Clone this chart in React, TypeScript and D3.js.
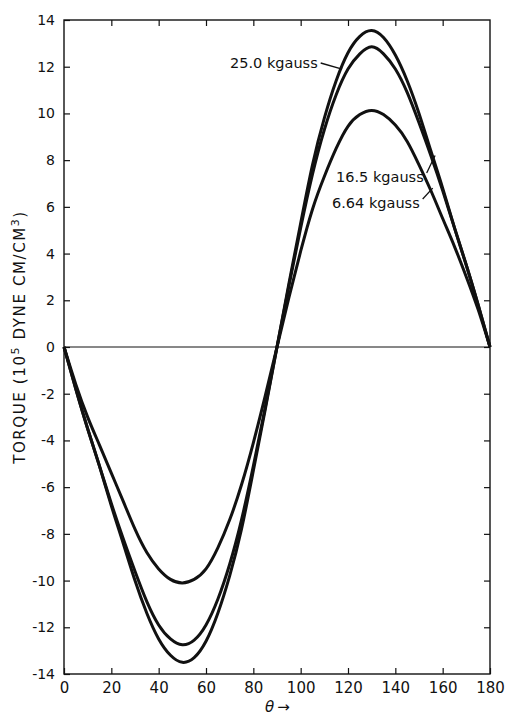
import React, { useRef, useEffect } from 'react';
import * as d3 from 'd3';

// angle θ (deg), sampled every 5 degrees
const theta = [
  0, 5, 10, 15, 20, 25, 30, 35, 40, 45, 50, 55, 60, 65, 70, 75, 80, 85, 90,
  95, 100, 105, 110, 115, 120, 125, 130, 135, 140, 145, 150, 155, 160, 165, 170, 175, 180,
];

// torque, 10^5 dyne cm/cm^3
const torque250 = [
  0, -1.8, -3.5, -5.1, -6.8, -8.4, -10.0, -11.4, -12.5, -13.2, -13.5, -13.3, -12.6, -11.4, -9.8, -7.8, -5.3, -2.7, 0,
  2.7, 5.3, 7.8, 9.8, 11.4, 12.6, 13.3, 13.55, 13.25, 12.5, 11.4, 10.0, 8.4, 6.8, 5.1, 3.5, 1.8, 0,
];
const torque165 = [
  0, -1.8, -3.5, -5.1, -6.7, -8.2, -9.6, -10.9, -11.9, -12.5, -12.75, -12.55, -11.9, -10.8, -9.3, -7.4, -5.1, -2.6, 0,
  2.6, 5.1, 7.4, 9.3, 10.8, 11.9, 12.55, 12.85, 12.55, 11.9, 10.9, 9.6, 8.2, 6.7, 5.1, 3.5, 1.8, 0,
];
const torque664 = [
  0, -1.6, -3.0, -4.2, -5.4, -6.6, -7.8, -8.8, -9.5, -9.95, -10.1, -9.95, -9.5, -8.6, -7.4, -5.9, -4.1, -2.1, 0,
  2.1, 4.1, 5.9, 7.3, 8.5, 9.45, 9.95, 10.13, 9.95, 9.5, 8.8, 7.8, 6.7, 5.5, 4.3, 3.0, 1.6, 0,
];

const seriesList = [torque250, torque165, torque664];

const xTicks = [0, 20, 40, 60, 80, 100, 120, 140, 160, 180];
const yTicks = [-14, -12, -10, -8, -6, -4, -2, 0, 2, 4, 6, 8, 10, 12, 14];

// curve labels: text, and the point on the curve the leader touches (θ, torque)
const labelTexts = ['25.0 kgauss', '16.5 kgauss', '6.64 kgauss'];
const labelTargets = [[117.5, 11.9], [156.8, 8.2], [155.8, 6.8]];

const W = 507;
const H = 715;
const margin = { top: 20, right: 17, bottom: 41, left: 64 };
const font = 'DejaVu Sans, sans-serif';
const ink = '#111';

const TorqueChart = () => {
  const svgRef = useRef(null);

  useEffect(() => {
    const root = d3.select(svgRef.current);
    root.selectAll('*').remove();

    const innerW = W - margin.left - margin.right;
    const innerH = H - margin.top - margin.bottom;

    const svg = root.append('g').attr('transform', `translate(${margin.left},${margin.top})`);

    const x = d3.scaleLinear().domain([0, 180]).range([0, innerW]);
    const y = d3.scaleLinear().domain([-14, 14]).range([innerH, 0]);

    // frame
    svg.append('rect')
      .attr('width', innerW).attr('height', innerH)
      .attr('fill', 'none').attr('stroke', ink).attr('stroke-width', 1.4);

    // zero line
    svg.append('line')
      .attr('x1', 0).attr('x2', innerW).attr('y1', y(0)).attr('y2', y(0))
      .attr('stroke', ink).attr('stroke-width', 1);

    const fmt = d => String(d);

    const left = svg.append('g')
      .call(d3.axisLeft(y).tickValues(yTicks).tickSize(-6).tickSizeOuter(0).tickPadding(9).tickFormat(fmt));
    const right = svg.append('g').attr('transform', `translate(${innerW},0)`)
      .call(d3.axisRight(y).tickValues(yTicks.slice(1, -1)).tickSize(-6).tickSizeOuter(0).tickFormat(() => ''));
    const bottom = svg.append('g').attr('transform', `translate(0,${innerH})`)
      .call(d3.axisBottom(x).tickValues(xTicks).tickSize(-6).tickSizeOuter(0).tickPadding(8).tickFormat(fmt));
    const top = svg.append('g')
      .call(d3.axisTop(x).tickValues(xTicks.slice(1, -1)).tickSize(-6).tickSizeOuter(0).tickFormat(() => ''));

    [left, right, bottom, top].forEach(g => {
      g.select('.domain').remove();
      g.selectAll('line').attr('stroke', ink).attr('stroke-width', 1.2);
      g.selectAll('text').attr('fill', ink).attr('font-family', font);
    });
    left.selectAll('text').attr('font-size', 14);
    bottom.selectAll('text').attr('font-size', 15);

    // curves
    const line = d3.line()
      .x((d, i) => x(theta[i]))
      .y(d => y(d))
      .curve(d3.curveNatural);

    svg.append('g')
      .selectAll('path')
      .data(seriesList)
      .enter()
      .append('path')
      .attr('d', d => line(d))
      .attr('fill', 'none')
      .attr('stroke', ink)
      .attr('stroke-width', 3)
      .attr('stroke-linejoin', 'round');

    // labels with leader lines
    const labelPos = [[166, 48], [272, 162], [268, 188]];
    labelTexts.forEach((t, i) => {
      const [lx, ly] = labelPos[i];
      const tx = svg.append('text')
        .attr('x', lx).attr('y', ly)
        .attr('font-family', font).attr('font-size', 14.5)
        .attr('fill', ink)
        .text(t);
      const bb = tx.node().getBBox();
      const [a, v] = labelTargets[i];
      const sx = bb.x + bb.width + 3;
      const sy = i === 0 ? ly - 5 : ly - 9;
      svg.append('line')
        .attr('x1', sx).attr('y1', sy)
        .attr('x2', x(a)).attr('y2', y(v))
        .attr('stroke', ink).attr('stroke-width', 1.3);
    });

    // axis titles
    const yt = root.append('text')
      .attr('transform', `translate(25,${margin.top + y(0) - 10}) rotate(-90)`)
      .attr('text-anchor', 'middle')
      .attr('font-family', font).attr('font-size', 15)
      .attr('letter-spacing', 1.6)
      .attr('fill', ink);
    yt.append('tspan').text('TORQUE (10');
    yt.append('tspan').attr('dy', -6).attr('font-size', 11).text('5');
    yt.append('tspan').attr('dy', 6).text(' DYNE CM/CM');
    yt.append('tspan').attr('dy', -6).attr('font-size', 11).text('3');
    yt.append('tspan').attr('dy', 6).text(')');

    const xt = root.append('text')
      .attr('x', margin.left + x(90) - 12).attr('y', 712)
      .attr('font-family', font).attr('font-size', 15)
      .attr('fill', ink);
    xt.append('tspan').attr('font-style', 'italic').text('θ');
    xt.append('tspan').attr('dx', 3).text('→');
  }, []);

  return <svg ref={svgRef} width={W} height={H} style={{ position: 'absolute', left: 0, top: 0, background: '#fff' }}></svg>;
};

export default function App() {
  return <TorqueChart />;
}
